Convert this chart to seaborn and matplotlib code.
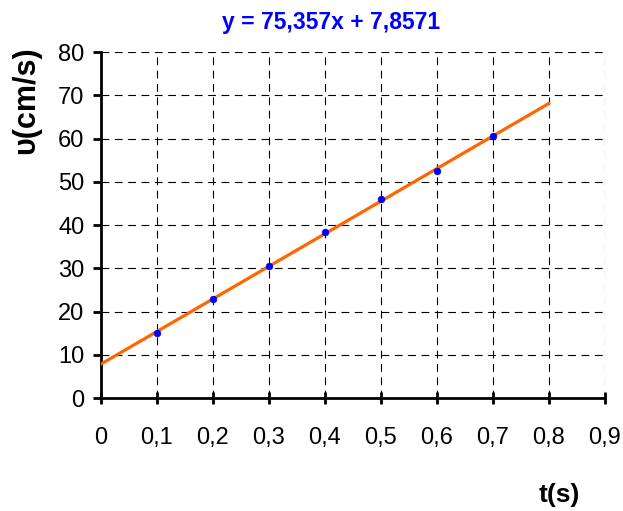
import numpy as np
import pandas as pd
import seaborn as sns
import matplotlib.pyplot as plt
from matplotlib.ticker import FuncFormatter

# measured data
t_values = [0.1, 0.2, 0.3, 0.4, 0.5, 0.6, 0.7]
v_values = [15, 23, 30.5, 38.5, 46, 52.5, 60.5]
x_ticks = [0, 0.1, 0.2, 0.3, 0.4, 0.5, 0.6, 0.7, 0.8, 0.9]
y_ticks = [0, 10, 20, 30, 40, 50, 60, 70, 80]

df = pd.DataFrame({'t': t_values, 'v': v_values})

# linear trend line
slope, intercept = np.polyfit(df['t'], df['v'], 1)
trend = pd.DataFrame({'t': [0, 0.8]})
trend['v'] = slope * trend['t'] + intercept

sns.set_style('white', {'text.color': 'black', 'xtick.color': 'black',
                        'ytick.color': 'black', 'axes.labelcolor': 'black'})
plt.rcParams['font.family'] = ['Liberation Sans', 'DejaVu Sans']

fig = plt.figure(figsize=(6.23, 5.11), dpi=100)
ax = fig.add_axes([0.162, 0.221, 0.809, 0.677])

sns.lineplot(x='t', y='v', data=trend, color='#FF6600', linewidth=2.3, ax=ax, zorder=3)
sns.scatterplot(x='t', y='v', data=df, color='#0000FF', s=24, edgecolor='#0000FF', ax=ax, zorder=4)

ax.set_xlim(0, 0.9)
ax.set_ylim(0, 80)
ax.set_xticks(x_ticks)
ax.set_yticks(y_ticks)
ax.xaxis.set_major_formatter(FuncFormatter(lambda v, p: ('%g' % round(v, 1)).replace('.', ',')))

ax.grid(True, color='black', linestyle=(0, (7, 5)), linewidth=0.8)
for side in ['top', 'right']:
    ax.spines[side].set_visible(False)
for side in ['left', 'bottom']:
    ax.spines[side].set_linewidth(2)
    ax.spines[side].set_color('black')

ax.tick_params(axis='y', which='major', direction='out', length=6, width=2, pad=6,
               labelsize=17, left=True, colors='black')
ax.tick_params(axis='x', which='major', direction='inout', length=8, width=2, pad=17,
               labelsize=17, bottom=True, colors='black')

ax.set_xlabel('')
ax.set_ylabel('')

fig.text(331 / 623, 1 - 22 / 511, 'y = 75,357x + 7,8571', color='#0000FF',
         fontsize=16.5, fontweight='bold', ha='center', va='center')
fig.text(26 / 623, 1 - 100 / 511, 'υ(cm/s)', rotation=90, fontsize=22,
         fontweight='bold', ha='center', va='center', color='black')
fig.text(559 / 623, 1 - 495 / 511, 't(s)', fontsize=19, fontweight='bold',
         ha='center', va='center', color='black')

plt.savefig('out.png', dpi=100)
plt.close()
